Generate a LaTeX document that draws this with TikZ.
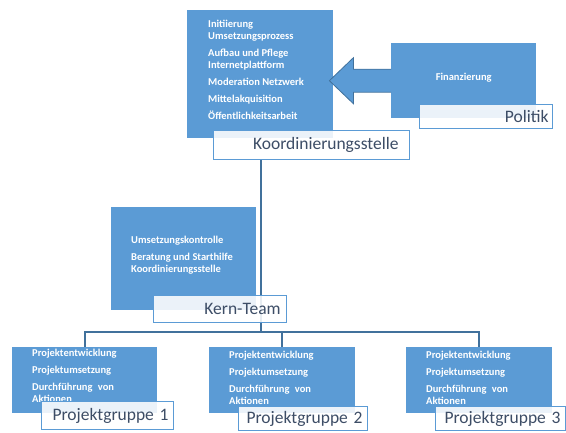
\documentclass[tikz,border=0pt]{standalone}
\usepackage{fontspec}
\setmainfont{Carlito}
\usetikzlibrary{calc}
\pgfdeclarelayer{background}
\pgfsetlayers{background,main}
\definecolor{boxblue}{HTML}{5B9BD5}
\definecolor{darkline}{HTML}{41719C}
\definecolor{labeltext}{HTML}{3D4D66}
\begin{document}
\begin{tikzpicture}[x=1pt,y=-1pt,
  bluebox/.style={fill=boxblue, draw=none, inner sep=0pt, anchor=north west},
  wtext/.style={text=white, font=\fontsize{10.5}{12}\selectfont\bfseries, align=left, inner sep=0pt, anchor=base west},
  lbl/.style={draw=boxblue, line width=1.2pt, fill=white, fill opacity=0.88, text opacity=1,
    text=labeltext, font=\fontsize{17.5}{20}\selectfont, align=right, inner ysep=0pt, anchor=north west},
  conn/.style={draw=darkline, line width=2.4pt},
  blockarrow/.style={fill=boxblue, draw=darkline, line width=0.8pt, line join=miter}]
\useasboundingbox (0,0) rectangle (566,432);
% boxes
\node[bluebox, minimum width=146pt, minimum height=128pt] (top) at (187,10) {};
\node[bluebox, minimum width=145pt, minimum height=75pt] (fin) at (391,43) {};
\node[bluebox, minimum width=145pt, minimum height=103pt] (kern) at (111,207) {};
\node[bluebox, minimum width=145pt, minimum height=66pt] (pg1) at (12,347) {};
\node[bluebox, minimum width=146pt, minimum height=66pt] (pg2) at (209,347) {};
\node[bluebox, minimum width=146pt, minimum height=66pt] (pg3) at (406,347) {};
% block arrow from Finanzierung to top box
\coordinate (tipA) at ($(top.east |- fin.west)+(-4,0)$);
\draw[blockarrow] ($(fin.west)+(0,-11.5)$) -- ($(tipA)+(24,-11.5)$) -- ($(tipA)+(24,-23)$)
  -- (tipA) -- ($(tipA)+(24,23)$) -- ($(tipA)+(24,11.5)$) -- ($(fin.west)+(0,11.5)$);
% texts
\node[wtext] (toptxt) at (208,119) {Initiierung\\Umsetzungsprozess\\[4.9pt]Aufbau und Pflege\\Internetplattform\\[4.9pt]Moderation Netzwerk\\[4.9pt]Mittelakquisition\\[4.9pt]Öffentlichkeitsarbeit};
\node[wtext, anchor=center] (fintxt) at ($(fin.center)+(0,-2.5)$) {Finanzierung};
\node[wtext] (kerntxt) at (131,272) {Umsetzungskontrolle\\[5pt]Beratung und Starthilfe\\Koordinierungsstelle};
\node[wtext] (pg1txt) at (32,402) {Projektentwicklung\\[5pt]Projektumsetzung\\[5pt]Durchführung\hspace{3pt} von\\Aktionen};
\node[wtext] (pg2txt) at (229,404) {Projektentwicklung\\[5pt]Projektumsetzung\\[5pt]Durchführung\hspace{3pt} von\\Aktionen};
\node[wtext] (pg3txt) at (426,404) {Projektentwicklung\\[5pt]Projektumsetzung\\[5pt]Durchführung\hspace{3pt} von\\Aktionen};
% labels
\node[lbl, minimum width=196pt, minimum height=29pt, inner xsep=11pt, text width=174pt] (koordL) at (213,130) {Koordinierungsstelle};
\node[lbl, minimum width=133pt, minimum height=24pt, inner xsep=4pt, text width=125pt] (politikL) at (419,104) {Politik};
\node[lbl, minimum width=133pt, minimum height=27pt, inner xsep=6pt, text width=121pt] (kernL) at (153,295) {Kern-Team};
\node[lbl, minimum width=132pt, minimum height=28pt, inner xsep=5pt, text width=122pt] (pg1L) at (41,401) {Projektgruppe 1};
\node[lbl, minimum width=129pt, minimum height=24pt, inner xsep=5pt, text width=119pt] (pg2L) at (238,406) {Projektgruppe 2};
\node[lbl, minimum width=130pt, minimum height=24pt, inner xsep=5pt, text width=120pt] (pg3L) at (435,406) {Projektgruppe 3};
% connectors behind everything
\coordinate (hub) at (261,332);
\begin{pgfonlayer}{background}
\draw[conn] (koordL.south -| hub) -- (hub);
\draw[conn] (pg1.north) |- (hub) -| (pg3.north);
\draw[conn] (hub) -| (pg2.north);
\end{pgfonlayer}
\end{tikzpicture}
\end{document}
